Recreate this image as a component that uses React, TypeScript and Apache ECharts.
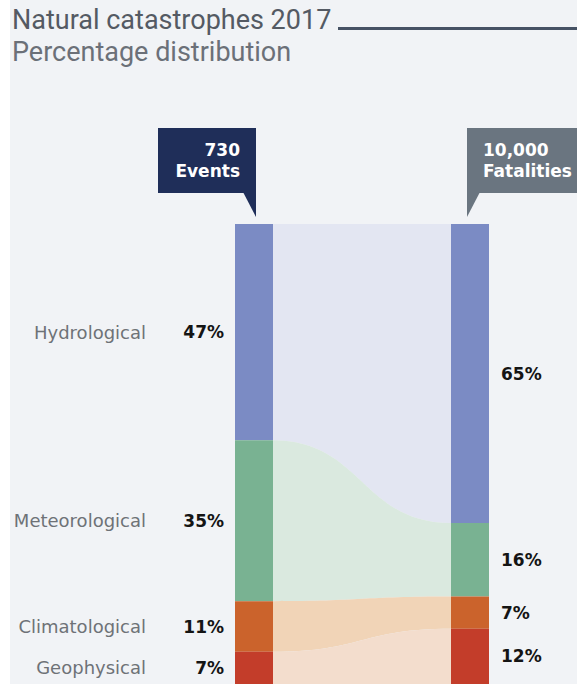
import React, { useEffect, useRef } from "react";
import * as echarts from "echarts";

const titleText = "Natural catastrophes 2017";
const subtitleText = "Percentage distribution";
const categories = ["Hydrological", "Meteorological", "Climatological", "Geophysical"];
const eventsShare = [47, 35, 11, 7];
const fatalitiesShare = [65, 16, 7, 12];
const eventsHeader = ["730", "Events"];
const fatalitiesHeader = ["10,000", "Fatalities"];

const BAR_COLORS = ["#7b8bc4", "#79b292", "#cb632c", "#c33d2a"];
const BAND_COLORS = ["#e3e6f2", "#dae9df", "#f1d4b7", "#f3ddcd"];
const BAR_W = 38;
const TITLE_FONT = "Roboto, 'Liberation Sans', Arial, sans-serif";
const LABEL_FONT = "'DejaVu Sans', 'Liberation Sans', Arial, sans-serif";

function cumulative(vals: number[]) {
  const out: [number, number][] = [];
  let acc = 0;
  for (const v of vals) {
    out.push([acc, acc + v]);
    acc += v;
  }
  return out;
}

export default function App() {
  const ref = useRef<HTMLDivElement>(null);
  useEffect(() => {
    if (!ref.current) return;
    const chart = echarts.init(ref.current, null, { renderer: "svg" });
    const leftCum = cumulative(eventsShare);
    const rightCum = cumulative(fatalitiesShare);

    const barData: number[][] = [];
    leftCum.forEach(([s, e], i) => barData.push([0, s, e, i, eventsShare[i]]));
    rightCum.forEach(([s, e], i) => barData.push([1, s, e, i, fatalitiesShare[i]]));

    const bandData: number[][] = categories.map((_, i) => [
      leftCum[i][0],
      leftCum[i][1],
      rightCum[i][0],
      rightCum[i][1],
      i,
    ]);

    const headerText = (text: string, x: number, y: number, align: string) => ({
      type: "text",
      style: {
        text,
        x,
        y,
        font: `700 17px ${LABEL_FONT}`,
        fill: "#ffffff",
        textAlign: align,
        align,
        textVerticalAlign: "middle",
        verticalAlign: "middle",
      },
    });

    const option: any = {
      animation: false,
      backgroundColor: "#ffffff",
      grid: { left: 235, right: 88, top: 224, bottom: -2 },
      xAxis: { type: "value", min: 0, max: 1, show: false },
      yAxis: { type: "value", min: 0, max: 100, inverse: true, show: false },
      graphic: [
        { type: "rect", z: -10, shape: { x: 10, y: 0, width: 567, height: 684 }, style: { fill: "#f1f3f6" } },
        {
          type: "text",
          style: { text: titleText, x: 12, y: 20, font: `400 27px ${TITLE_FONT}`, fill: "#545a63", textVerticalAlign: "middle", verticalAlign: "middle" },
        },
        { type: "rect", shape: { x: 338, y: 27, width: 239, height: 3 }, style: { fill: "#465264" } },
        {
          type: "text",
          style: { text: subtitleText, x: 12, y: 52, font: `400 27px ${TITLE_FONT}`, fill: "#6b7078", textVerticalAlign: "middle", verticalAlign: "middle" },
        },
        { type: "rect", shape: { x: 158, y: 128, width: 98, height: 65 }, style: { fill: "#1f2e59" } },
        { type: "polygon", shape: { points: [[243, 192], [256, 192], [256, 217]] }, style: { fill: "#1f2e59" } },
        headerText(eventsHeader[0], 240, 150, "right"),
        headerText(eventsHeader[1], 240, 171, "right"),
        { type: "rect", shape: { x: 467, y: 128, width: 110, height: 65 }, style: { fill: "#6a7580" } },
        { type: "polygon", shape: { points: [[467, 192], [480, 192], [467, 217]] }, style: { fill: "#6a7580" } },
        headerText(fatalitiesHeader[0], 483, 150, "left"),
        headerText(fatalitiesHeader[1], 483, 171, "left"),
      ],
      series: [
        {
          type: "custom",
          name: "bands",
          z: 1,
          clip: false,
          data: bandData,
          renderItem: (params: any, api: any) => {
            const ls = api.value(0), le = api.value(1), rs = api.value(2), re = api.value(3);
            const idx = api.value(4);
            const pLs = api.coord([0, ls]);
            const pLe = api.coord([0, le]);
            const pRs = api.coord([1, rs]);
            const pRe = api.coord([1, re]);
            const x0 = pLs[0] + BAR_W;
            const x1 = pRs[0] - BAR_W;
            const xm = (x0 + x1) / 2;
            const d =
              `M ${x0} ${pLs[1]} C ${xm} ${pLs[1]} ${xm} ${pRs[1]} ${x1} ${pRs[1]} ` +
              `L ${x1} ${pRe[1]} C ${xm} ${pRe[1]} ${xm} ${pLe[1]} ${x0} ${pLe[1]} Z`;
            return { type: "path", shape: { pathData: d }, style: { fill: BAND_COLORS[idx] } };
          },
        },
        {
          type: "custom",
          name: "bars",
          z: 2,
          clip: false,
          data: barData,
          renderItem: (params: any, api: any) => {
            const col = api.value(0), s = api.value(1), e = api.value(2), idx = api.value(3), v = api.value(4);
            const top = api.coord([col, s]);
            const bot = api.coord([col, e]);
            const x = col === 0 ? top[0] : top[0] - BAR_W;
            const cy = (top[1] + bot[1]) / 2;
            const children: any[] = [
              { type: "rect", shape: { x, y: top[1], width: BAR_W, height: bot[1] - top[1] }, style: { fill: BAR_COLORS[idx] } },
              {
                type: "text",
                style: {
                  text: `${v}%`,
                  x: col === 0 ? top[0] - 11 : top[0] + 12,
                  y: cy,
                  font: `700 17px ${LABEL_FONT}`,
                  fill: "#141414",
                  textAlign: col === 0 ? "right" : "left",
                  align: col === 0 ? "right" : "left",
                  textVerticalAlign: "middle",
                  verticalAlign: "middle",
                },
              },
            ];
            if (col === 0) {
              children.push({
                type: "text",
                style: {
                  text: categories[idx],
                  x: top[0] - 89,
                  y: cy,
                  font: `400 18px ${LABEL_FONT}`,
                  fill: "#6e7277",
                  textAlign: "right",
                  align: "right",
                  textVerticalAlign: "middle",
                  verticalAlign: "middle",
                },
              });
            }
            return { type: "group", children };
          },
        },
      ],
    };
    chart.setOption(option);
    return () => chart.dispose();
  }, []);
  return (
    <div
      ref={ref}
      style={{ position: "absolute", left: 0, top: 0, width: 577, height: 684 }}
    />
  );
}
